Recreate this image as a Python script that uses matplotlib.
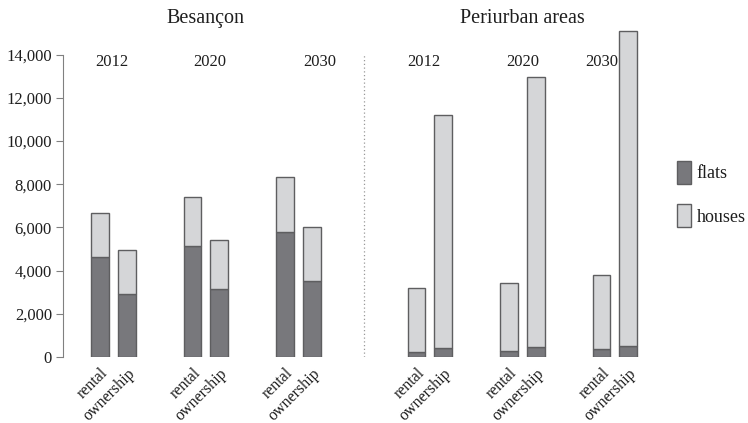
import numpy as np
import matplotlib.pyplot as plt
from matplotlib.patches import Patch

plt.rcParams['font.family'] = ['Liberation Serif', 'DejaVu Serif']

# data
years = ['2012', '2020', '2030']
tenure = ['rental', 'ownership']
bes_rental_flats = [4650, 5150, 5800]
bes_rental_houses = [2000, 2250, 2550]
bes_owner_flats = [2900, 3150, 3500]
bes_owner_houses = [2050, 2250, 2500]
per_rental_flats = [250, 300, 380]
per_rental_houses = [2950, 3150, 3420]
per_owner_flats = [430, 470, 520]
per_owner_houses = [10770, 12480, 14580]

flat_col = '#78787c'
house_col = '#d5d6d8'
edge_col = '#5e5e60'
txt_col = '#1e1e1e'

fig = plt.figure(figsize=(7.48, 4.23), dpi=100)
ax = fig.add_axes([63 / 748, 66 / 423, 587 / 748, 331 / 423])

group_x = np.array([0, 1, 2, 3.42, 4.42, 5.42])
off = 0.145
w = 0.19

rental_flats = bes_rental_flats + per_rental_flats
rental_houses = bes_rental_houses + per_rental_houses
owner_flats = bes_owner_flats + per_owner_flats
owner_houses = bes_owner_houses + per_owner_houses

for xs, fl, ho in [(group_x - off, rental_flats, rental_houses),
                   (group_x + off, owner_flats, owner_houses)]:
    ax.bar(xs, fl, width=w, color=flat_col, edgecolor=edge_col, linewidth=1)
    ax.bar(xs, ho, width=w, bottom=fl, color=house_col, edgecolor=edge_col, linewidth=1)

# axes
ax.set_xlim(-0.544, 5.8)
ax.set_ylim(0, 15330)
for s in ['top', 'right', 'bottom']:
    ax.spines[s].set_visible(False)
ax.spines['left'].set_bounds(0, 14000)
ax.spines['left'].set_color('#808080')
ax.set_yticks(np.arange(0, 14001, 2000))
ax.set_yticklabels([f'{v:,}' for v in range(0, 14001, 2000)])
ax.tick_params(axis='y', length=5, color='#808080', labelsize=12, labelcolor=txt_col, pad=3)

xt = np.concatenate([group_x - off, group_x + off])
ax.set_xticks(xt)
ax.set_xticklabels(tenure[0:1] * 6 + tenure[1:2] * 6, rotation=45, ha='right',
                   rotation_mode='anchor', fontsize=11.5, color=txt_col)
ax.tick_params(axis='x', length=0, pad=6)

# separator
ax.plot([2.714, 2.714], [0, 14000], ls=(0, (1, 2)), color='#999999', lw=0.9)

# year labels
year_off = [-0.02, 0.04, 0.23, -0.06, 0.0, -0.14]
for gx, yo, yr in zip(group_x, year_off, years * 2):
    ax.text(gx + yo, 13660, yr, ha='center', va='center', fontsize=12, color=txt_col)

# region titles
ax.text(group_x[1], 15700, 'Besançon', ha='center', va='center', fontsize=14.5,
        color=txt_col, clip_on=False)
ax.text(group_x[4], 15700, 'Periurban areas', ha='center', va='center', fontsize=14.5,
        color=txt_col, clip_on=False)

handles = [Patch(facecolor=flat_col, edgecolor=edge_col, label='flats'),
           Patch(facecolor=house_col, edgecolor=edge_col, label='houses')]
fig.legend(handles=handles, loc='upper left', bbox_to_anchor=(677 / 748, 1 - 161 / 423),
           frameon=False, fontsize=13, handlelength=0.75, handleheight=1.55,
           labelspacing=1.15, handletextpad=0.35, borderpad=0, borderaxespad=0,
           labelcolor=txt_col)

fig.savefig('out.png', dpi=100)
